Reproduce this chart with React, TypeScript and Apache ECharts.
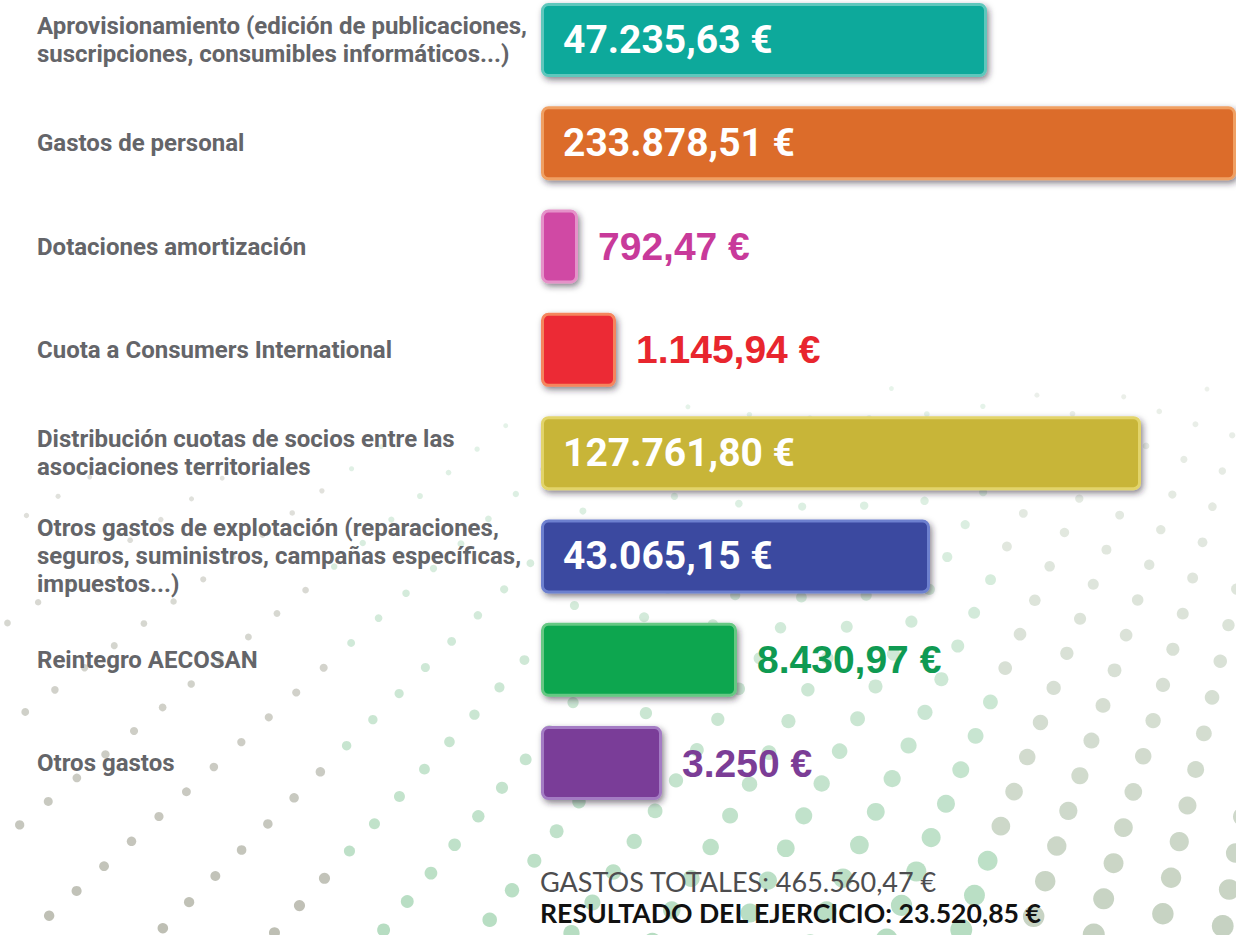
import React, { useEffect, useRef } from "react";
import * as echarts from "echarts";

// ---- data ----
const categories: string[] = [
  "Aprovisionamiento (edición de publicaciones,\nsuscripciones, consumibles informáticos...)",
  "Gastos de personal",
  "Dotaciones amortización",
  "Cuota a Consumers International",
  "Distribución cuotas de socios entre las\nasociaciones territoriales",
  "Otros gastos de explotación (reparaciones,\nseguros, suministros, campañas específicas,\nimpuestos...)",
  "Reintegro AECOSAN",
  "Otros gastos",
];
// amounts in euros (label values)
const amounts: number[] = [47235.63, 233878.51, 792.47, 1145.94, 127761.8, 43065.15, 8430.97, 3250];
// drawn bar lengths as read from the infographic (not proportional to amounts)
const barLengths: number[] = [446, 695, 37, 75, 600, 389, 196, 121];

const totalLine = "GASTOS TOTALES: 465.560,47 €";
const resultLine = "RESULTADO DEL EJERCICIO: 23.520,85 €";

// ---- styles ----
const barColors = ["#0aa99b", "#dc6c2c", "#d04aa4", "#ec2b35", "#c8b537", "#3a48a0", "#0aa650", "#7a3e98"];
const rimColors = ["#5ec7bc", "#f0a063", "#e592c9", "#f5855d", "#e2d46b", "#6d80cf", "#66c883", "#a47cc4"];
const outLabelColors = ["#fff", "#fff", "#c83a9a", "#e8262e", "#fff", "#fff", "#0f9a52", "#7b3d96"];

function fmtEuro(v: number): string {
  const isInt = Math.abs(v - Math.round(v)) < 1e-9;
  const s = isInt ? String(Math.round(v)) : v.toFixed(2);
  const [ip, dp] = s.split(".");
  const withSep = ip.replace(/\B(?=(\d{3})+(?!\d))/g, ".");
  return (dp ? withSep + "," + dp : withSep) + " €";
}

function buildDots() {
  const cx = 1450, cy = -350;
  const out: any[] = [];
  const clamp = (v: number) => Math.max(0, Math.min(1, v));
  for (let r = 260; r < 2100; r += 37) {
    for (let a = 92; a < 172; a += 2.7) {
      const rad = (a * Math.PI) / 180;
      const x = cx + r * Math.cos(rad);
      const y = cy + r * Math.sin(rad);
      if (x < -10 || x > 1246 || y < -10 || y > 945) continue;
      const ay = clamp((y - 330) / 600);
      const bx = 0.4 + 0.6 * clamp((x - 250) / 650);
      const rr = 1.5 + 9.5 * ay * bx;
      if (rr < 2.4) continue;
      let color = "#a8a99b";
      if (x > 330 && x < 1000) color = "#9fd2ae";
      else if (x >= 1000) color = "#b3c3ad";
      out.push({
        type: "circle",
        shape: { cx: x, cy: y, r: rr },
        style: { fill: color, opacity: 0.2 + 0.55 * ay },
        silent: true,
      });
    }
  }
  return out;
}

export default function App() {
  const ref = useRef<HTMLDivElement>(null);
  useEffect(() => {
    if (!ref.current) return;
    const chart = echarts.init(ref.current, null, { renderer: "svg" });
    const data = barLengths.map((len, i) => {
      const inside = len > 300;
      return {
        value: len,
        itemStyle: {
          color: barColors[i],
          borderColor: rimColors[i],
          borderWidth: 3,
          borderRadius: 6,
          shadowColor: "rgba(40,30,50,0.55)",
          shadowBlur: 6,
          shadowOffsetX: 2,
          shadowOffsetY: 3,
        },
        label: {
          show: true,
          position: inside ? "insideLeft" : "right",
          distance: inside ? 22 : 20,
          color: inside ? "#ffffff" : outLabelColors[i],
          fontSize: 39,
          fontWeight: "bold",
          fontFamily: inside ? "Roboto, 'Liberation Sans', sans-serif" : "'Liberation Sans', Arial, sans-serif",
          formatter: () => fmtEuro(amounts[i]),
        },
      };
    });
    chart.setOption({
      animation: false,
      backgroundColor: "#ffffff",
      grid: { left: 541, right: 0, top: 40, bottom: 935 - 763 },
      xAxis: { type: "value", min: 0, max: 695, show: false },
      yAxis: {
        type: "category",
        inverse: true,
        boundaryGap: false,
        data: categories,
        axisLine: { show: false },
        axisTick: { show: false },
        splitLine: { show: false },
        axisLabel: {
          align: "left",
          margin: 504,
          fontSize: 24,
          fontWeight: "bold",
          color: "#646569",
          lineHeight: 28,
          fontFamily: "Roboto, 'Liberation Sans', sans-serif",
        },
      },
      series: [
        {
          type: "bar",
          barWidth: 74,
          clip: false,
          data,
          z: 5,
        },
      ],
      graphic: {
        elements: [
          { type: "group", z: -10, silent: true, children: buildDots() },
          {
            type: "text",
            left: 540,
            top: 868,
            z: 10,
            style: {
              text: totalLine,
              fill: "#4d4d4f",
              font: "27px Lato, 'Open Sans', sans-serif",
            } as any,
          },
          {
            type: "text",
            left: 540,
            top: 899,
            z: 10,
            style: {
              text: resultLine,
              fill: "#111111",
              font: "bold 26.6px Lato, 'Open Sans', sans-serif",
            } as any,
          },
        ],
      },
    });
    return () => chart.dispose();
  }, []);
  return (
    <div
      ref={ref}
      style={{ position: "fixed", left: 0, top: 0, width: 1236, height: 935, background: "#fff" }}
    />
  );
}
